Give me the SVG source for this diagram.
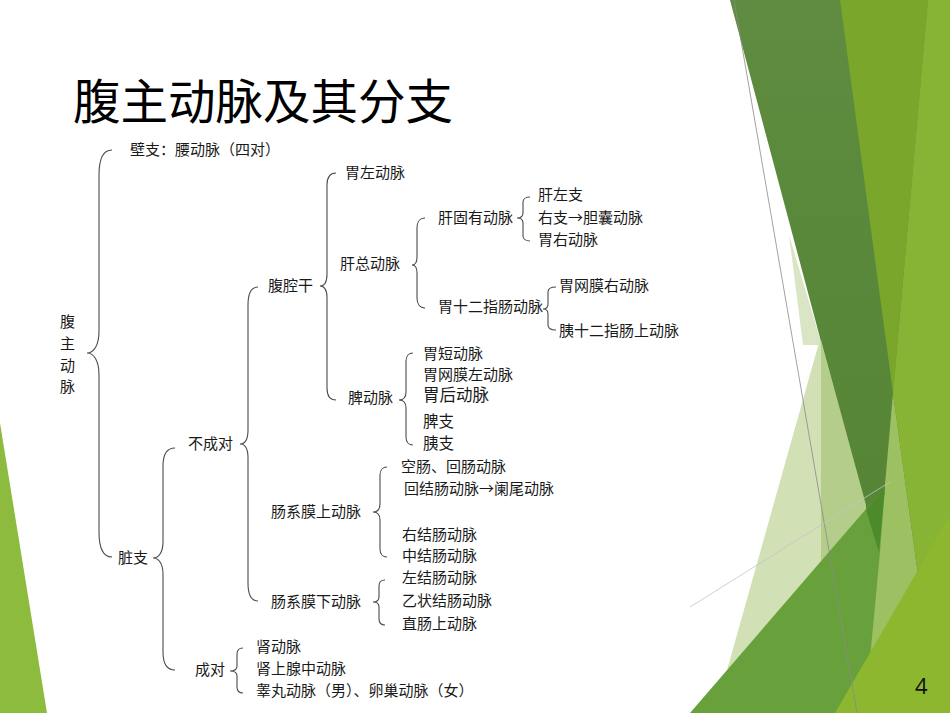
<svg xmlns="http://www.w3.org/2000/svg" width="950" height="713" viewBox="0 0 950 713">
<style>
.t{font-family:"Noto Sans CJK SC","Noto Sans",sans-serif;font-size:15px;fill:#1a1a1a}
.br{fill:none;stroke:#4a4a4a;stroke-width:1.1}
.title{font-family:"Noto Sans CJK SC","Noto Sans",sans-serif;font-size:47.5px;fill:#000}
</style>
<defs>
  <linearGradient id="dk" x1="0" y1="0" x2="0" y2="1">
    <stop offset="0" stop-color="#5f8c40"/>
    <stop offset="0.6" stop-color="#578637"/>
    <stop offset="1" stop-color="#4f8230"/>
  </linearGradient>
</defs>
<rect width="950" height="713" fill="#ffffff"/>
<g id="background">
  <polygon points="0,423 47,713 0,713" fill="#8dbb3d"/>
  <polygon points="789,235 803,345 822,345" fill="#dae5c5"/>
  <polygon points="845,250 715,713 900,713" fill="#d2e0b6"/>
  <polygon points="730,0 950,0 950,713 920,713" fill="url(#dk)"/>
  <polygon points="821,340 866,505 866,512 821,562" fill="#b5cd8b"/>
  <polygon points="840,0 928,0 893,393" fill="#79a62b"/>
  <polygon points="893,393 865,713 937,713" fill="#9cc062"/>
  <polygon points="928,0 950,0 950,713 937,713 893,393" fill="#88b435"/>
  <polygon points="690,713 885,487 880,552 865,713" fill="#68a13b"/>
  <polygon points="866,510 885,487 879,552" fill="#4d8a2b"/>
  <polygon points="835,713 950,515 950,713" fill="#8db72f"/>
  <line x1="734" y1="0" x2="857" y2="713" stroke="#8a8a8a" stroke-width="0.8"/>
  <line x1="690" y1="607" x2="890" y2="482" stroke="#c4c4c4" stroke-width="0.8"/>
</g>
<text class="title" x="73" y="119">腹主动脉及其分支</text>
<g id="connectors">
  <path class="br" d="M112,150 C103,150 99,158 99,175 L99,331 C99,345 94,353 87,353 C94,353 99,361 99,375 L99,532 C99,549 103,557 112,557"/>
  <path class="br" d="M175,448 C167,448 163,454 163,466 L163,542 C163,552 159,558 153,558 C159,558 163,564 163,574 L163,652 C163,664 167,670 175,670"/>
  <path class="br" d="M258,287 C251,287 248,293 248,305 L248,430 C248,439 245,444 240,444 C245,444 248,449 248,458 L248,583 C248,595 251,601 258,601"/>
  <path class="br" d="M336,173 C330,173 327,177 327,185 L327,274 C327,282 324,286 320,286 C324,286 327,290 327,298 L327,388 C327,396 330,400 336,400"/>
  <path class="br" d="M425,218 C420,218 417,222 417,228 L417,257 C417,262 415,265 412,265 C415,265 417,268 417,273 L417,298 C417,304 420,308 425,308"/>
  <path class="br" d="M530,197 C526,197 523,199 523,202 L523,213 C523,216 521,218 517,218 C521,218 523,220 523,223 L523,236 C523,239 526,241 530,241"/>
  <path class="br" d="M556,287 C551,287 548,289 548,292 L548,304 C548,307 546,309 543,309 C546,309 548,311 548,314 L548,325 C548,328 551,330 556,330"/>
  <path class="br" d="M413,353 C409,353 406,356 406,361 L406,392 C406,397 404,400 399,400 C404,400 406,403 406,408 L406,437 C406,442 409,445 413,445"/>
  <path class="br" d="M387,467 C383,467 380,470 380,475 L380,504 C380,509 378,512 373,512 C378,512 380,515 380,520 L380,549 C380,554 383,557 387,557"/>
  <path class="br" d="M385,580 C381,580 379,582 379,586 L379,597 C379,600 377,602 373,602 C377,602 379,604 379,607 L379,619 C379,623 381,625 385,625"/>
  <path class="br" d="M243,648 C239,648 237,650 237,654 L237,666 C237,669 235,671 230,671 C235,671 237,673 237,676 L237,687 C237,691 239,693 243,693"/>
</g>
<g id="n-root"><text class="t" x="60" y="327">腹</text><text class="t" x="60" y="349">主</text><text class="t" x="60" y="371">动</text><text class="t" x="60" y="392">脉</text></g>
<g id="n-bizhi"><text class="t" x="130" y="155">壁支：腰动脉（四对）</text></g>
<g id="n-zangzhi"><text class="t" x="118" y="563">脏支</text></g>
<g id="n-buchengdui"><text class="t" x="188" y="449">不成对</text></g>
<g id="n-chengdui"><text class="t" x="195" y="675">成对</text></g>
<g id="n-fuqiangan"><text class="t" x="268" y="291">腹腔干</text></g>
<g id="n-weizuo"><text class="t" x="345" y="178">胃左动脉</text></g>
<g id="n-ganzong"><text class="t" x="340" y="269">肝总动脉</text></g>
<g id="n-ganguyou"><text class="t" x="438" y="223">肝固有动脉</text></g>
<g id="n-wei12"><text class="t" x="438" y="312">胃十二指肠动脉</text></g>
<g id="n-ganzuo"><text class="t" x="538" y="200">肝左支</text></g>
<g id="n-youzhi"><text class="t" x="538" y="223">右支→胆囊动脉</text></g>
<g id="n-weiyou"><text class="t" x="538" y="245">胃右动脉</text></g>
<g id="n-weiwangyou"><text class="t" x="559" y="291">胃网膜右动脉</text></g>
<g id="n-yi12"><text class="t" x="559" y="336">胰十二指肠上动脉</text></g>
<g id="n-pi"><text class="t" x="348" y="403">脾动脉</text></g>
<g id="n-weiduan"><text class="t" x="423" y="359">胃短动脉</text></g>
<g id="n-weiwangzuo"><text class="t" x="423" y="380">胃网膜左动脉</text></g>
<g id="n-weihou"><text class="t" x="423" y="401" style="font-size:16.5px">胃后动脉</text></g>
<g id="n-pizhi"><text class="t" x="423" y="427" style="font-size:15.5px">脾支</text></g>
<g id="n-yizhi"><text class="t" x="423" y="449" style="font-size:15.5px">胰支</text></g>
<g id="n-shangdm"><text class="t" x="271" y="517">肠系膜上动脉</text></g>
<g id="n-kongchang"><text class="t" x="401" y="472">空肠、回肠动脉</text></g>
<g id="n-huijie"><text class="t" x="404" y="494">回结肠动脉→阑尾动脉</text></g>
<g id="n-youjie"><text class="t" x="402" y="540">右结肠动脉</text></g>
<g id="n-zhongjie"><text class="t" x="402" y="561">中结肠动脉</text></g>
<g id="n-xiadm"><text class="t" x="271" y="607">肠系膜下动脉</text></g>
<g id="n-zuojie"><text class="t" x="402" y="583">左结肠动脉</text></g>
<g id="n-yizhuang"><text class="t" x="402" y="606">乙状结肠动脉</text></g>
<g id="n-zhichang"><text class="t" x="402" y="629">直肠上动脉</text></g>
<g id="n-shen"><text class="t" x="256" y="652">肾动脉</text></g>
<g id="n-shenshangxian"><text class="t" x="256" y="674">肾上腺中动脉</text></g>
<g id="n-gaowan"><text class="t" x="256" y="696">睾丸动脉（男）、卵巢动脉（女）</text></g>
<text x="915" y="694" font-family="Open Sans, Liberation Sans, sans-serif" font-size="22" fill="#111">4</text>
</svg>
